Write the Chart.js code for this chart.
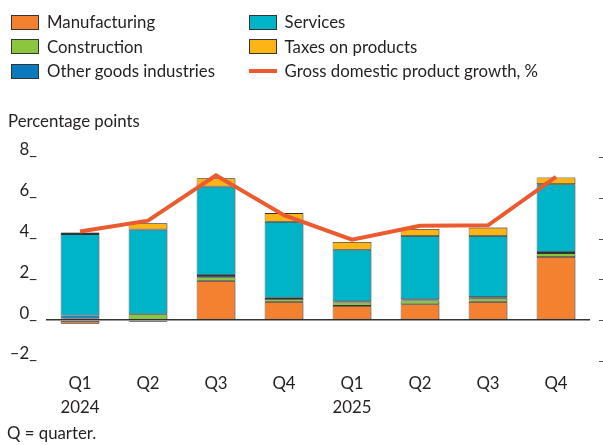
<!DOCTYPE html>
<html>
<head>
<meta charset="utf-8">
<script src="https://cdn.jsdelivr.net/npm/chart.js@4/dist/chart.umd.min.js"></script>
<style>
  html, body { margin: 0; padding: 0; background: #fff; }
  #wrap { position: relative; width: 603px; height: 445px; font-family: Lato, "Noto Sans", sans-serif; color: #231f20; }
  #chart { position: absolute; left: 0; top: 0; }
  #legend { position: absolute; left: 11px; top: 12px; width: 590px; }
  .item { position: absolute; display: flex; align-items: center; height: 20px; line-height: 20px; font-size: 16.8px; white-space: nowrap; }
  .box { width: 28px; height: 15px; border: 1px solid #333; box-sizing: border-box; margin-right: 8px; }
  .lineSw { width: 28px; height: 4px; margin-right: 8px; }
  #ytitle { position: absolute; left: 8px; top: 110px; font-size: 16.8px; }
  #note { position: absolute; left: 7px; top: 422px; font-size: 16.8px; }
</style>
</head>
<body>
<div id="wrap">
  <canvas id="chart" width="603" height="445"></canvas>
  <div id="legend"></div>
  <div id="ytitle">Percentage points</div>
  <div id="note">Q = quarter.</div>
</div>
<script>
// Contributions to GDP growth by sector, percentage points
const categories = [["Q1", "2024"], "Q2", "Q3", "Q4", ["Q1", "2025"], "Q2", "Q3", "Q4"];
const manufacturing = [-0.17, -0.08, 1.93, 0.90, 0.70, 0.78, 0.90, 3.10];
const construction  = [0.08, 0.29, 0.18, 0.14, 0.17, 0.19, 0.17, 0.19];
const otherGoods    = [0.15, 0.00, 0.10, 0.06, 0.06, 0.06, 0.06, 0.05];
const services      = [3.99, 4.15, 4.34, 3.72, 2.52, 3.10, 3.00, 3.33];
const taxes         = [0.08, 0.31, 0.41, 0.43, 0.38, 0.34, 0.41, 0.33];
const gdpGrowth     = [4.35, 4.88, 7.10, 5.15, 3.95, 4.63, 4.65, 7.03];
const yTicks = [-2, 0, 2, 4, 6, 8];

const colors = {
  manufacturing: "#f3812f",
  construction: "#8cc63f",
  otherGoods: "#0a79bd",
  services: "#00b4c8",
  taxes: "#fdb515",
  gdp: "#ec5a2f"
};

const FONT = { family: "Lato", size: 16.8, lineHeight: 1.4 };

function barSet(label, data, color) {
  return {
    type: "bar", label, data, backgroundColor: color,
    borderColor: "#333", borderWidth: 0.8, borderSkipped: false,
    stack: "s", order: 1, barPercentage: 0.57, categoryPercentage: 1
  };
}

const datasets = [
  barSet("Manufacturing", manufacturing, colors.manufacturing),
  barSet("Construction", construction, colors.construction),
  barSet("Other goods industries", otherGoods, colors.otherGoods),
  barSet("Services", services, colors.services),
  barSet("Taxes on products", taxes, colors.taxes),
  {
    type: "line", label: "Gross domestic product growth, %", data: gdpGrowth,
    borderColor: colors.gdp, backgroundColor: colors.gdp, borderWidth: 4,
    pointRadius: 0, tension: 0, order: 0, borderJoinStyle: "miter"
  }
];

// soft shadow on the right side of bars
const barShadow = {
  id: "barShadow",
  beforeDatasetDraw(chart, args) {
    if (args.meta.type !== "bar") return;
    const ctx = chart.ctx;
    ctx.save();
    ctx.shadowColor = "rgba(0,0,0,0.28)";
    ctx.shadowOffsetX = 2;
    ctx.shadowOffsetY = 0;
    ctx.shadowBlur = 1;
  },
  afterDatasetDraw(chart, args) {
    if (args.meta.type !== "bar") return;
    chart.ctx.restore();
  }
};

// short tick marks at the right edge
const rightTicks = {
  id: "rightTicks",
  afterDraw(chart) {
    const ctx = chart.ctx, y = chart.scales.y;
    ctx.save();
    ctx.strokeStyle = "#555";
    ctx.lineWidth = 1;
    yTicks.forEach(v => {
      const py = Math.round(y.getPixelForValue(v)) + 0.5;
      ctx.beginPath();
      ctx.moveTo(chart.width - 4, py);
      ctx.lineTo(chart.width, py);
      ctx.stroke();
    });
    ctx.restore();
  }
};

const chart = new Chart(document.getElementById("chart"), {
  data: { labels: categories, datasets },
  options: {
    responsive: false,
    animation: false,
    layout: { padding: { top: 157, right: 13, left: 0, bottom: 0 } },
    plugins: { legend: { display: false }, tooltip: { enabled: false } },
    scales: {
      x: {
        stacked: true,
        grid: { display: false, drawTicks: false },
        border: { display: false },
        ticks: { color: "#231f20", padding: 11, font: FONT, maxRotation: 0 },
        afterFit(scale) { scale.height = 84; }
      },
      y: {
        stacked: true,
        min: -2, max: 8,
        afterBuildTicks(scale) { scale.ticks = yTicks.map(v => ({ value: v })); },
        grid: {
          drawTicks: false,
          color: c => (c.tick && c.tick.value === 0) ? "#333" : "rgba(0,0,0,0)",
          lineWidth: c => (c.tick && c.tick.value === 0) ? 1.5 : 0
        },
        border: { display: false },
        ticks: {
          color: "#231f20", padding: 9, labelOffset: -7,
          font: { family: "Lato", size: 16.8 },
          callback: v => (v < 0 ? "\u2013" + Math.abs(v) : String(v)) + "_"
        },
        afterFit(scale) { scale.width = 46; }
      }
    }
  },
  plugins: [barShadow, rightTicks]
});

// legend built from the chart's datasets, two columns
const legendOrder = [
  ["Manufacturing", 0, 0], ["Services", 1, 0],
  ["Construction", 0, 1], ["Taxes on products", 1, 1],
  ["Other goods industries", 0, 2], ["Gross domestic product growth, %", 1, 2]
];
const legendEl = document.getElementById("legend");
legendOrder.forEach(([name, col, row]) => {
  const ds = chart.data.datasets.find(d => d.label === name);
  const item = document.createElement("div");
  item.className = "item";
  item.style.left = (col * 237.6) + "px";
  item.style.top = (row * 24.7) + "px";
  const sw = document.createElement("span");
  if (ds.type === "line") {
    sw.className = "lineSw";
    sw.style.background = ds.borderColor;
  } else {
    sw.className = "box";
    sw.style.background = ds.backgroundColor;
  }
  item.appendChild(sw);
  item.appendChild(document.createTextNode(ds.label));
  legendEl.appendChild(item);
});
</script>
</body>
</html>
